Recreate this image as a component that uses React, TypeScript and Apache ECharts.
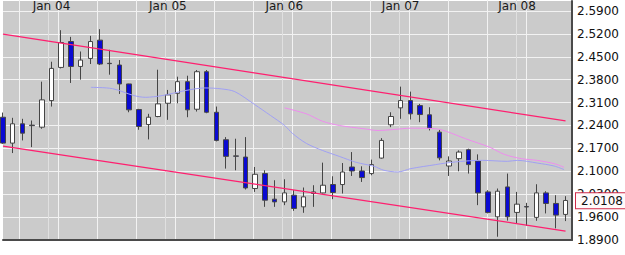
import React, { useEffect, useRef } from 'react';
import * as echarts from 'echarts';

// Month index counted from Jan 2004 (0 = Jan 04)
const months = [
  -5, -4, -3, -2, -1, 0, 1, 2, 3, 4, 5, 6, 7, 8, 9, 10, 11, 12, 13, 14, 15, 16, 17, 18, 19,
  20, 21, 22, 23, 24, 25, 26, 27, 28, 29, 30, 31, 32, 33, 34, 35, 36, 37, 38, 39, 40, 41,
  42, 43, 44, 45, 46, 47, 48, 49, 50, 51, 52, 53,
];
const opens = [
  2.2652, 2.1861, 2.2451, 2.2410, 2.2348, 2.3161, 2.4174, 2.4965, 2.4204, 2.4448, 2.5008, 2.4300,
  2.4247, 2.3669, 2.2887, 2.2430, 2.2674, 2.3078, 2.3383, 2.3739, 2.2896, 2.4043, 2.2804, 2.1964,
  2.1470, 2.1435, 2.0473, 2.0930, 2.0148, 2.0065, 2.0269, 1.9913, 2.0321, 2.0339, 2.0595, 2.0595,
  2.1131, 2.1009, 2.0930, 2.1404, 2.2421, 2.2938, 2.3161, 2.3008, 2.2726, 2.2196, 2.1161, 2.1386,
  2.1660, 2.1314, 2.0370, 1.9609, 2.0522, 1.9743, 1.9920, 1.9591, 2.0339, 2.0017, 1.9682,
];
const closes = [
  2.1861, 2.2451, 2.2165, 2.2395, 2.3182, 2.4144, 2.4935, 2.4204, 2.4399, 2.4965, 2.4278, 2.4290,
  2.3669, 2.2878, 2.2369, 2.2652, 2.3060, 2.3334, 2.3739, 2.2878, 2.4043, 2.2804, 2.1943, 2.1456,
  2.1460, 2.0491, 2.0908, 2.0117, 2.0065, 2.0339, 1.9864, 2.0218, 2.0370, 2.0574, 2.0351, 2.0978,
  2.1009, 2.0808, 2.1204, 2.1943, 2.2674, 2.3161, 2.2756, 2.2734, 2.2318, 2.1410, 2.1314, 2.1587,
  2.1204, 2.0339, 1.9743, 2.0391, 1.9609, 1.9995, 1.9910, 2.0339, 2.0017, 1.9661, 2.0108,
];
const lows = [
  2.1837, 2.1557, 2.1943, 2.1739, 2.2299, 2.2978, 2.4144, 2.3699, 2.3800, 2.4278, 2.4247, 2.3952,
  2.3364, 2.2804, 2.2269, 2.1974, 2.2652, 2.2573, 2.3078, 2.2652, 2.2826, 2.2774, 2.1913, 2.1082,
  2.1030, 2.0443, 2.0370, 1.9913, 1.9913, 1.9965, 1.9791, 1.9731, 1.9913, 2.0321, 2.0148, 2.0321,
  2.0857, 2.0674, 2.0878, 2.1386, 2.2348, 2.2604, 2.2582, 2.2500, 2.2248, 2.1334, 2.0857, 2.1000,
  2.0930, 1.9965, 1.9712, 1.9000, 1.9493, 1.9387, 1.9330, 1.9487, 1.9712, 1.9256, 1.9478,
];
const highs = [
  2.2795, 2.2634, 2.2604, 2.2552, 2.3739, 2.4348, 2.5312, 2.5108, 2.4661, 2.5139, 2.5343, 2.4713,
  2.4399, 2.3675, 2.2908, 2.2756, 2.4104, 2.3486, 2.3891, 2.3921, 2.4095, 2.4095, 2.2978, 2.2044,
  2.1995, 2.2044, 2.1131, 2.1030, 2.0726, 2.0756, 2.0421, 2.0504, 2.0574, 2.1264, 2.0847, 2.1252,
  2.1587, 2.1152, 2.1356, 2.2013, 2.2804, 2.3587, 2.3434, 2.3060, 2.2957, 2.2269, 2.1456, 2.1639,
  2.1691, 2.1517, 2.0421, 2.0473, 2.0930, 2.0370, 2.0035, 2.0604, 2.0391, 2.0269, 2.0239,
];

// Moving-average style lines: [month, value]
const maBlue = [
  [4.06, 2.3565], [6.28, 2.3526], [8.51, 2.3313], [9.67, 2.3261], [11.41, 2.3313], [13.77, 2.3465],
  [15.82, 2.3547], [17.56, 2.3517], [18.9, 2.3434], [20.95, 2.3039], [22.59, 2.2704], [24.03, 2.2400],
  [24.85, 2.2156], [26.28, 2.1852], [27.92, 2.1639], [29.67, 2.1456], [31.41, 2.1274], [33.26, 2.1152],
  [34.28, 2.1030], [35.72, 2.0978], [37.05, 2.1082], [39.62, 2.1204], [40.64, 2.1252], [42.69, 2.1313],
  [44.44, 2.1334], [47.0, 2.1304], [48.03, 2.1334], [50.08, 2.1252], [51.82, 2.1161], [52.85, 2.1052],
];
const maPink = [
  [24.03, 2.2938], [26.28, 2.2756], [27.92, 2.2531], [29.67, 2.2400], [32.23, 2.2299], [33.67, 2.2247],
  [35.31, 2.2278], [37.05, 2.2318], [39.62, 2.2299], [40.74, 2.2217], [42.69, 2.1995], [45.15, 2.1739],
  [46.69, 2.1517], [48.44, 2.1386], [50.08, 2.1334], [51.82, 2.1234], [52.85, 2.1122],
];
const channelUpper = [[-5, 2.5191], [53, 2.2540]];
const channelLower = [[-5, 2.1770], [53, 1.9174]];

const janMonths = [0, 12, 24, 36, 48];
const janLabels = ['Jan 04', 'Jan 05', 'Jan 06', 'Jan 07', 'Jan 08'];
// vertical grid every 4 months, first at Oct 03 (-3), last at Feb 08 (49)
const gridFirst = -3;
const gridLast = 49;
const gridStep = 4;
const lastPrice = 2.0108;

const X_MIN = -5;
const X_MAX = 53.667;
const Y_MIN = 1.89;
const Y_MAX = 2.6204;
const Y_STEP = 0.07;
const FONT = 'DejaVu Sans';
const PLOT_W = 572;
const W = 625;

export default function App() {
  const ref = useRef<HTMLDivElement>(null);
  useEffect(() => {
    if (!ref.current) return;
    const chart = echarts.init(ref.current, undefined, { renderer: 'svg' });
    const candleData = months.map((m, i) => [m, opens[i], closes[i], lows[i], highs[i]]);
    const splitColors: string[] = [];
    for (let i = 0; i < 11; i++) splitColors.push('#f2f2f2');
    splitColors.push('rgba(0,0,0,0)');
    const px = (m: number) => ((m - X_MIN) / (X_MAX - X_MIN)) * PLOT_W;
    const hiddenY = (gridIndex: number) => ({
      type: 'value', gridIndex, min: 0, max: 1,
      axisLine: { show: false }, axisLabel: { show: false }, axisTick: { show: false }, splitLine: { show: false },
    });
    const gridX = (gridIndex: number, min: number, max: number, interval: number, color: string) => ({
      type: 'value', gridIndex, min, max, interval,
      axisLine: { show: false, onZero: false }, axisTick: { show: false }, axisLabel: { show: false },
      splitLine: { show: true, lineStyle: { color, width: 1 } },
    });
    chart.setOption({
      animation: false,
      grid: [
        { left: 0, right: W - PLOT_W, top: 0, bottom: 15, show: true, backgroundColor: '#cbcbcb', borderWidth: 0 },
        { left: px(gridFirst), right: W - px(gridLast), top: 0, bottom: 15 },
        { left: px(janMonths[0]), right: W - px(janMonths[janMonths.length - 1]), top: 0, bottom: 15 },
      ],
      xAxis: [
        {
          type: 'value', gridIndex: 0, position: 'top', min: X_MIN, max: X_MAX, interval: 1,
          axisLine: { show: false, onZero: false }, axisTick: { show: false }, splitLine: { show: false },
          axisLabel: {
            inside: true, margin: 5, verticalAlign: 'middle', fontFamily: FONT, fontSize: 12, color: '#1a1a1a',
            formatter: (v: number) => {
              const r = Math.round(v);
              if (Math.abs(v - r) > 1e-6) return '';
              const i = janMonths.indexOf(r);
              return i >= 0 ? janLabels[i] : '';
            },
          },
        },
        {
          type: 'value', gridIndex: 0, position: 'bottom', min: X_MIN, max: X_MAX,
          axisLine: { show: true, onZero: false, lineStyle: { color: '#4a4a4a', width: 2 } },
          axisTick: { show: false }, axisLabel: { show: false }, splitLine: { show: false },
        },
        gridX(1, gridFirst, gridLast, gridStep, '#f2f2f2'),
        gridX(2, janMonths[0], janMonths[janMonths.length - 1], 12, '#e0e0e0'),
      ],
      yAxis: [
        {
          type: 'value', gridIndex: 0, position: 'right', min: Y_MIN, max: Y_MAX, interval: Y_STEP,
          axisLine: { show: true, onZero: false, lineStyle: { color: '#4a4a4a', width: 2 } },
          axisTick: { show: false },
          splitLine: { show: true, lineStyle: { color: splitColors, width: 1 } },
          axisLabel: {
            margin: 5, fontFamily: FONT, fontSize: 12, color: '#111',
            formatter: (v: number) => (v > 2.6 ? '' : v.toFixed(4)),
          },
        },
        hiddenY(1),
        hiddenY(2),
      ],
      series: [
        {
          type: 'candlestick', xAxisIndex: 0, yAxisIndex: 0, data: candleData, barWidth: 5, z: 3,
          itemStyle: { color: '#ffffff', color0: '#0a0ad2', borderColor: '#454545', borderColor0: '#454545', borderWidth: 1 },
          markLine: {
            silent: true, symbol: ['none', 'none'], animation: false,
            lineStyle: { color: 'rgba(0,0,0,0)', width: 0 },
            data: [{ yAxis: lastPrice }],
            label: {
              show: true, position: 'end', distance: 4, formatter: lastPrice.toFixed(4),
              fontFamily: FONT, fontSize: 12, color: '#111', backgroundColor: '#fffafa',
              borderColor: '#d02a4a', borderWidth: 1, padding: [2, 5, 1, 5],
            },
          },
        },
        { type: 'line', xAxisIndex: 0, yAxisIndex: 0, data: maBlue, showSymbol: false, smooth: 0.3, z: 4, lineStyle: { color: '#a0a0f4', width: 1 } },
        { type: 'line', xAxisIndex: 0, yAxisIndex: 0, data: maPink, showSymbol: false, smooth: 0.3, z: 4, lineStyle: { color: '#ee8cee', width: 1 } },
        { type: 'line', xAxisIndex: 0, yAxisIndex: 0, data: channelUpper, showSymbol: false, z: 5, lineStyle: { color: '#ff1f6f', width: 1.2 } },
        { type: 'line', xAxisIndex: 0, yAxisIndex: 0, data: channelLower, showSymbol: false, z: 5, lineStyle: { color: '#ff1f6f', width: 1.2 } },
      ],
    });
    return () => chart.dispose();
  }, []);
  return <div ref={ref} style={{ position: 'absolute', left: 0, top: 0, width: 625, height: 255 }} />;
}
